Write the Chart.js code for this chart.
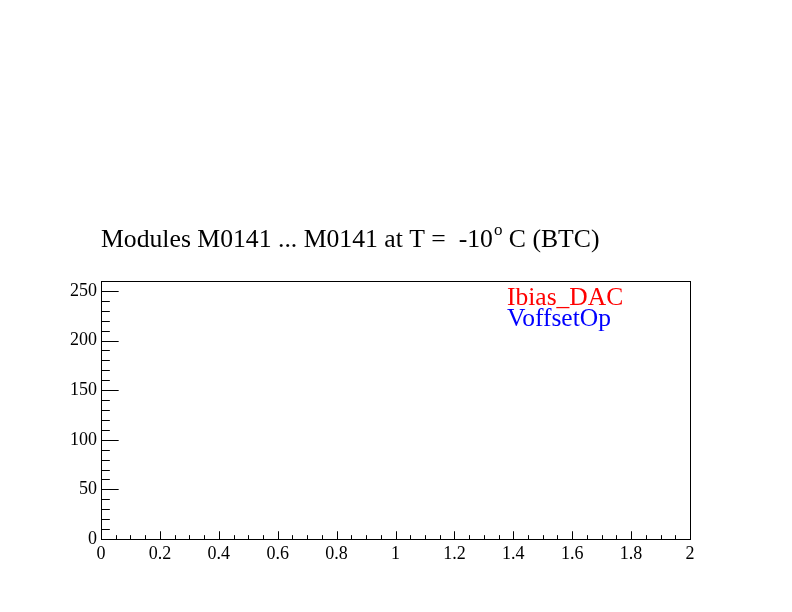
<!DOCTYPE html>
<html>
<head>
<meta charset="utf-8">
<script src="https://cdn.jsdelivr.net/npm/chart.js@4/dist/chart.umd.min.js"></script>
<style>
  body { margin: 0; background: #fff; }
  canvas { display: block; }
</style>
</head>
<body>
<canvas id="moduleChart" width="792" height="612"></canvas>
<script>
// series (the reference frame is empty: nothing was filled)
const seriesNames = ['Ibias_DAC', 'VoffsetOp'];
const seriesColors = ['#ff0000', '#0000ff'];
const ibiasDAC = [];
const voffsetOp = [];

// axes
const xRange = [0, 2];
const yRange = [0, 260];
const xTicks = [0, 0.2, 0.4, 0.6, 0.8, 1, 1.2, 1.4, 1.6, 1.8, 2];
const xTickLabels = ['0', '0.2', '0.4', '0.6', '0.8', '1', '1.2', '1.4', '1.6', '1.8', '2'];
const yTicks = [0, 50, 100, 150, 200, 250];
const yTickLabels = ['0', '50', '100', '150', '200', '250'];
const xMinorStep = 0.05;
const yMinorStep = 10;

const titleParts = ['Modules M0141 ... M0141 at T =  -10', 'o', ' C (BTC)'];

const serif = '"Liberation Serif", "DejaVu Serif", serif';

// ROOT style frame with ticks drawn inside
const framePlugin = {
    id: 'rootFrame',
    afterDraw(chart) {
        const ctx = chart.ctx;
        const area = chart.chartArea;
        const xs = chart.scales.x;
        const ys = chart.scales.y;
        ctx.save();
        ctx.strokeStyle = '#000';
        ctx.lineWidth = 1;
        ctx.strokeRect(Math.round(area.left) + 0.5, Math.round(area.top) + 0.5,
            Math.round(area.right - area.left), Math.round(area.bottom - area.top));

        const yMajor = (area.right - area.left) * 0.03;
        const xMajor = (area.bottom - area.top) * 0.03;
        ctx.beginPath();
        for (let v = yRange[0]; v <= yTicks[yTicks.length - 1] + 1e-9; v += yMinorStep) {
            const isMajor = yTicks.some(t => Math.abs(t - v) < 1e-9);
            const y = Math.round(ys.getPixelForValue(v)) + 0.5;
            const len = isMajor ? yMajor : yMajor / 2;
            ctx.moveTo(area.left, y);
            ctx.lineTo(area.left + len, y);
        }
        for (let v = xRange[0]; v <= xRange[1] + 1e-9; v += xMinorStep) {
            const isMajor = xTicks.some(t => Math.abs(t - v) < 1e-9);
            const x = Math.round(xs.getPixelForValue(v)) + 0.5;
            const len = isMajor ? xMajor : xMajor / 2;
            ctx.moveTo(x, area.bottom);
            ctx.lineTo(x, area.bottom - len);
        }
        ctx.stroke();

        // title with superscript degree
        ctx.fillStyle = '#000';
        ctx.textBaseline = 'alphabetic';
        ctx.textAlign = 'left';
        let tx = 101;
        const ty = 247;
        ctx.font = '25.7px ' + serif;
        ctx.fillText(titleParts[0], tx, ty);
        tx += ctx.measureText(titleParts[0]).width + 1;
        ctx.font = '17px ' + serif;
        ctx.fillText(titleParts[1], tx, ty - 12);
        tx += ctx.measureText(titleParts[1]).width;
        ctx.font = '25.7px ' + serif;
        ctx.fillText(titleParts[2], tx, ty);

        // legend: coloured names in upper right of the frame
        ctx.font = '25.5px ' + serif;
        chart.data.datasets.forEach((ds, i) => {
            ctx.fillStyle = ds.borderColor;
            ctx.fillText(ds.label, 507, 305 + i * 21);
        });
        ctx.restore();
    }
};

const ctx = document.getElementById('moduleChart').getContext('2d');
const moduleChart = new Chart(ctx, {
    type: 'scatter',
    data: {
        datasets: [
            { label: seriesNames[0], data: ibiasDAC, borderColor: seriesColors[0], backgroundColor: seriesColors[0] },
            { label: seriesNames[1], data: voffsetOp, borderColor: seriesColors[1], backgroundColor: seriesColors[1] }
        ]
    },
    options: {
        responsive: false,
        animation: false,
        layout: { padding: { top: 281, right: 102, left: 0, bottom: 0 } },
        plugins: {
            legend: { display: false },
            title: { display: false },
            tooltip: { enabled: false }
        },
        scales: {
            x: {
                type: 'linear',
                min: xRange[0],
                max: xRange[1],
                afterBuildTicks: s => { s.ticks = xTicks.map(v => ({ value: v })); },
                afterFit: s => { s.height = 73; },
                grid: { display: false, drawTicks: false },
                border: { display: false },
                ticks: {
                    padding: 4,
                    maxRotation: 0,
                    autoSkip: false,
                    color: '#000',
                    font: { family: serif, size: 18 },
                    callback: (value, i) => xTickLabels[i]
                }
            },
            y: {
                type: 'linear',
                min: yRange[0],
                max: yRange[1],
                afterBuildTicks: s => { s.ticks = yTicks.map(v => ({ value: v })); },
                afterFit: s => { s.width = 101; },
                grid: { display: false, drawTicks: false },
                border: { display: false },
                ticks: {
                    padding: 4,
                    autoSkip: false,
                    color: '#000',
                    font: { family: serif, size: 18 },
                    callback: (value, i) => yTickLabels[i]
                }
            }
        }
    },
    plugins: [framePlugin]
});
</script>
</body>
</html>
